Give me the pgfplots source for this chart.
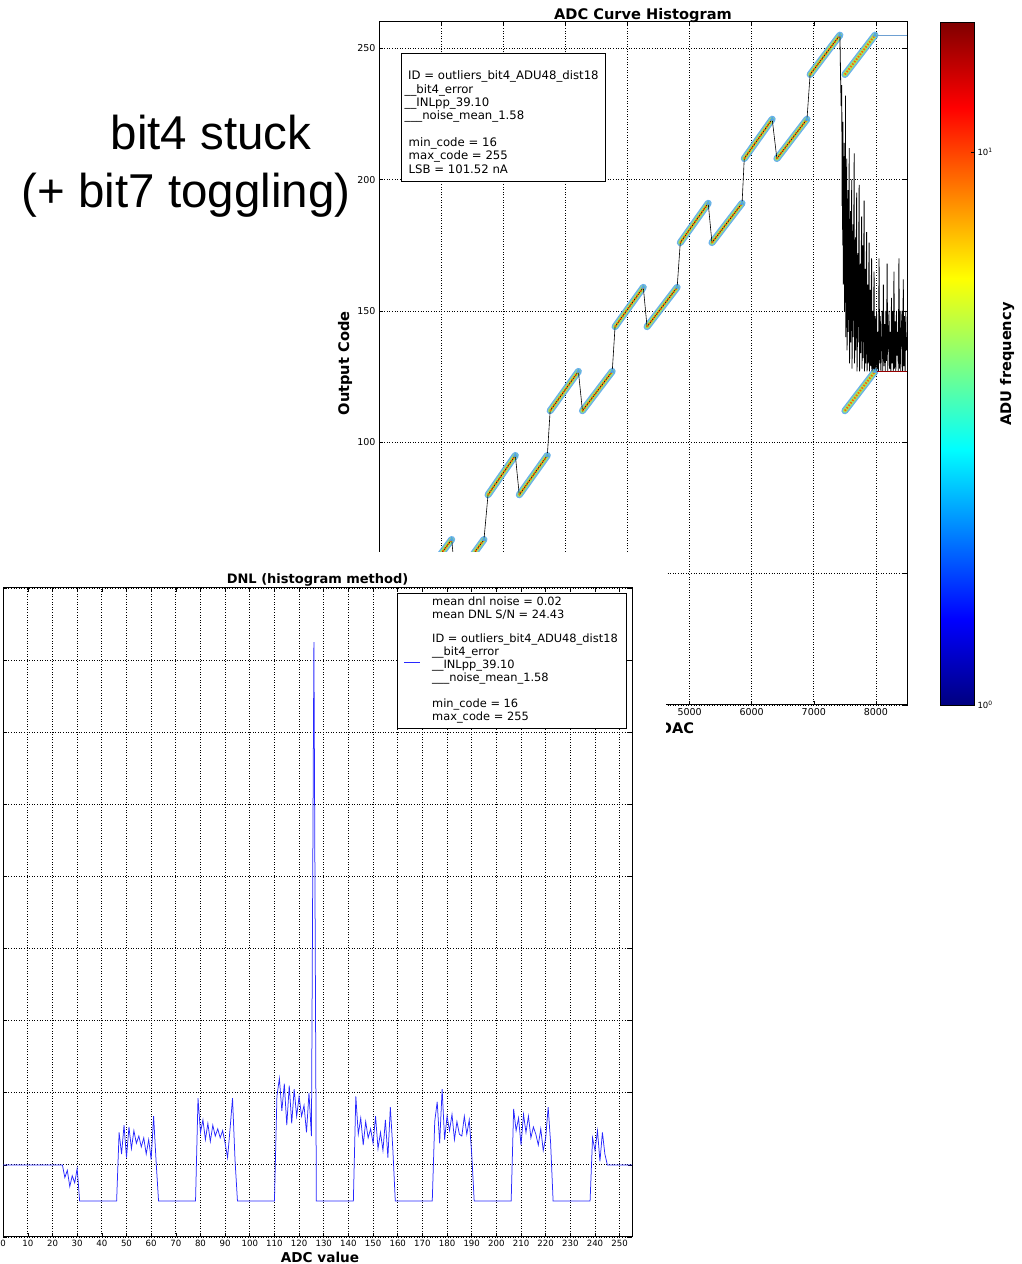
\documentclass[border=0pt]{standalone}
\usepackage{pgfplots}
\usepackage{pgfplotstable}
\pgfplotsset{compat=1.18}
\usepackage{fontspec}
\setmainfont{DejaVu Sans}
\newfontfamily\slidefont{Liberation Sans}
\definecolor{bandout}{RGB}{80,165,230}
\definecolor{bandmid}{RGB}{165,230,95}
\definecolor{bandin}{RGB}{255,100,0}
\definecolor{flatblue}{RGB}{110,160,210}
\definecolor{flatred}{RGB}{150,0,0}
\definecolor{dnlblue}{RGB}{40,40,255}
\newcommand{\fs}[1]{\fontsize{#1}{#1}\selectfont}

\pgfplotstableread{
x y
0 26
160 31
nan nan
190 16
650 31
nan nan
700 48
1170 63
nan nan
1230 48
1690 63
nan nan
1755 80
2195 95
nan nan
2258 80
2710 95
nan nan
2755 112
3210 127
nan nan
3275 112
3755 127
nan nan
3800 144
4255 159
nan nan
4315 144
4800 159
nan nan
4850 176
5300 191
nan nan
5360 176
5845 191
nan nan
5880 208
6330 223
nan nan
6405 208
6890 223
nan nan
6940 240
7420 255
nan nan
7500 240
7985 255
nan nan
7500 112
7985 127
}\segs

\pgfplotstableread{
x y
1170 63
1690 63
2195 95
2710 95
3210 127
3755 127
4255 159
4800 159
5300 191
5845 191
6330 223
6890 223
7420 255
7985 255
7985 127
}\tops

\pgfplotstableread{
x y
0 26
160 31
190 16
650 31
700 48
1170 63
1230 48
1690 63
1755 80
2195 95
2258 80
2710 95
2755 112
3210 127
3275 112
3755 127
3800 144
4255 159
4315 144
4800 159
4850 176
5300 191
5360 176
5845 191
5880 208
6330 223
6405 208
6890 223
6940 240
7420 255
}\meanline

\pgfplotstableread{
x y
7420 255
7430 240
7440 228
7450 236
7455 190
7460 205
7465 175
7470 222
7475 160
7480 168
7485 200
7490 214
7495 150
7500 190
7505 165
7510 232
7515 140
7520 175
7525 198
7530 208
7535 135
7540 150
7545 185
7550 196
7555 142
7560 172
7565 190
7570 212
7575 130
7580 140
7585 176
7590 188
7595 138
7600 160
7605 182
7610 200
7615 128
7620 145
7625 170
7630 183
7635 140
7640 165
7645 190
7650 210
7655 130
7660 138
7665 172
7670 178
7675 135
7680 150
7685 180
7690 195
7695 127
7700 132
7705 165
7710 172
7715 138
7720 155
7725 182
7730 198
7735 127
7740 128
7745 160
7750 168
7755 134
7760 145
7765 175
7770 186
7775 128
7780 135
7785 165
7790 175
7795 132
7800 150
7805 176
7810 192
7815 127
7820 130
7825 158
7830 166
7835 130
7840 142
7845 170
7850 180
7855 127
7860 128
7865 150
7870 160
7875 130
7880 138
7885 165
7890 176
7895 127
7900 131
7905 150
7910 158
7915 129
7920 140
7925 160
7930 170
7935 127
7940 128
7945 145
7950 150
7955 128
7960 135
7965 155
7970 165
7975 127
7980 129
7985 140
7990 148
8000 127
8010 150
8020 128
8030 142
8040 127
8050 170
8060 130
8070 148
8080 127
8090 138
8100 150
8110 127
8120 160
8130 129
8140 145
8150 127
8160 150
8170 131
8180 168
8190 127
8200 140
8210 150
8220 128
8230 142
8240 127
8250 155
8260 130
8270 150
8280 127
8290 165
8300 128
8310 146
8320 127
8330 150
8340 133
8350 142
8360 127
8370 170
8380 128
8390 150
8400 127
8410 144
8420 150
8430 127
8440 162
8450 129
8460 148
8470 127
8480 150
8490 135
8500 140
}\noiseline

\pgfplotstableread{
x y
0 0
24 0
25 -0.35
26 -0.15
27 -0.6
28 -0.3
29 -0.5
30 -0.1
31 -1
46 -1
47 0.9
48 0.3
49 1.1
50 0.2
51 1.05
52 0.45
53 0.95
54 0.6
55 0.8
56 0.5
57 0.75
58 0.3
59 0.7
60 0.15
61 1.35
62 0.1
63 -1
78 -1
79 1.85
80 0.9
81 1.25
82 0.7
83 1.15
84 0.65
85 1.1
86 0.8
87 1.0
88 0.75
89 0.95
90 0.6
91 0.2
92 1.0
93 1.85
94 0.15
95 -1
110 -1
111 1.9
112 2.4
113 1.5
114 2.25
115 1.1
116 2.2
117 1.15
118 2.1
119 1.35
120 1.9
121 1.35
122 1.65
123 0.9
124 2.0
125 0.8
126 14.5
127 -1
142 -1
143 1.9
144 0.85
145 1.3
146 0.55
147 1.2
148 0.75
149 1.0
150 0.6
151 1.35
152 0.45
153 0.9
154 0.4
155 1.25
156 0.2
157 1.6
158 0.45
159 -1
174 -1
175 1.2
176 1.75
177 0.6
178 2.1
179 0.7
180 1.35
181 0.95
182 1.4
183 0.7
184 1.2
185 0.85
186 0.8
187 1.35
188 0.85
189 1.25
190 0.3
191 -1
206 -1
207 1.55
208 0.95
209 1.3
210 0.55
211 1.4
212 0.9
213 1.35
214 0.75
215 1.05
216 0.85
217 0.55
218 1.0
219 0.4
220 0.75
221 1.6
222 0.6
223 -1
238 -1
239 0.75
240 0.4
241 0.95
242 0.1
243 0.9
244 0.3
245 0
255 0
}\dnl

\begin{document}
\begin{tikzpicture}[x=1pt,y=1pt]
\useasboundingbox (0,0) rectangle (1022,1264);

% slide text
\node[anchor=base, inner sep=0, font=\slidefont\fontsize{47.5}{50}\selectfont] at (211,1114) {bit4 stuck};
\node[anchor=base, inner sep=0, font=\slidefont\fontsize{47.5}{50}\selectfont] at (186,1056) {(+ bit7 toggling)};

% ---------------- ADC curve histogram ----------------
\begin{axis}[
  at={(379pt,559pt)}, anchor=south west, scale only axis,
  width=528pt, height=683pt,
  xmin=0, xmax=8500, ymin=0, ymax=260,
  xtick={0,1000,...,8000}, ytick={0,50,...,250},
  xticklabels={,,,,,5000,6000,7000,8000},
  yticklabels={,,100,150,200,250},
  grid=major,
  grid style={black, line width=0.8pt, dash pattern=on 0.9pt off 1.7pt},
  axis line style={black, line width=1pt},
  tick align=inside, tick pos=both, major tick length=4pt,
  tick style={black, line width=0.6pt},
  ticklabel style={font=\fs{9.5}},
  /pgf/number format/assume math mode=true,
  /pgf/number format/set thousands separator={},
  scaled ticks=false,
  unbounded coords=jump,
]
\addplot[bandout, line width=7pt, opacity=0.85, line cap=round, forget plot] table {\segs};
\addplot[bandmid, line width=4pt, line cap=round, forget plot] table {\segs};
\addplot[black, line width=0.6pt, forget plot] table {\meanline};
\addplot[bandin, line width=2pt, dash pattern=on 1.5pt off 1.6pt, forget plot] table {\segs};
\addplot[only marks, mark=triangle*, mark size=2.3pt, color=bandout, forget plot] table {\tops};
\addplot[flatblue, line width=1.2pt, forget plot] coordinates {(7985,255) (8500,255)};
\addplot[black, line width=0.8pt, forget plot] table {\noiseline};
\addplot[flatred, line width=1.2pt, forget plot] coordinates {(7985,127) (8500,127)};
\end{axis}

% ---------------- colour bar (log10 of ADU frequency) ----------------
\begin{axis}[
  at={(940pt,559pt)}, anchor=south west, scale only axis,
  width=34pt, height=683pt,
  xmin=0, xmax=1, ymin=0, ymax=1.235,
  enlargelimits=false,
  colormap/jet, point meta min=0, point meta max=1.235,
  xtick=\empty,
  ytick={0,1}, yticklabels={10\textsuperscript{0},10\textsuperscript{1}},
  ytick pos=right, yticklabel pos=right,
  yticklabel style={font=\fs{8.5}},
  tick align=inside, major tick length=3pt,
  tick style={black, line width=0.6pt},
  axis line style={black, line width=0.8pt},
  axis on top,
]
\addplot[surf, shader=interp, point meta=y, forget plot] coordinates {
(0,0) (1,0)

(0,1.235) (1,1.235)
};
\end{axis}

\node[anchor=base, inner sep=0, font=\bfseries\fs{14.6}] at (643,1244.5) {ADC Curve Histogram};
\node[rotate=90, anchor=base, inner sep=0, font=\bfseries\fs{14.6}] at (349,900.5) {Output Code};
\node[rotate=90, anchor=base, inner sep=0, font=\bfseries\fs{14.6}] at (1011,900) {ADU frequency};
\node[anchor=base, inner sep=0, font=\bfseries\fs{14.6}] at (677,530.7) {DAC};

% top legend
\draw[black, line width=0.9pt, fill=white] (401,1210.5) rectangle (605,1082.5);
\begin{scope}[every node/.style={anchor=base west, inner sep=0, font=\fs{11.7}}]
\node at (408,1184) {ID = outliers\_bit4\_ADU48\_dist18};
\node at (404.5,1170.7) {\_\_bit4\_error};
\node at (404.5,1157.4) {\_\_INLpp\_39.10};
\node at (404.5,1144) {\_\_\_noise\_mean\_1.58};
\node at (408.5,1117.4) {min\_code = 16};
\node at (408.5,1104) {max\_code = 255};
\node at (408.5,1090.7) {LSB = 101.52 nA};
\end{scope}

% cover from the pasted DNL picture
\fill[white] (0,0) rectangle (666,712);

% ---------------- DNL ----------------
\begin{axis}[
  at={(3.2pt,27pt)}, anchor=south west, scale only axis,
  width=628.8pt, height=649pt,
  xmin=0, xmax=255, ymin=-2, ymax=16,
  xtick={0,10,...,250}, ytick={-2,0,...,16}, yticklabels={},
  grid=major,
  grid style={black, line width=0.8pt, dash pattern=on 0.9pt off 1.7pt},
  axis line style={black, line width=1pt},
  tick align=inside, tick pos=both, major tick length=4pt,
  tick style={black, line width=0.6pt},
  xticklabel style={font=\fs{8.6}},
  /pgf/number format/assume math mode=true,
  scaled ticks=false,
]
\addplot[dnlblue, line width=0.75pt, forget plot] table {\dnl};
\end{axis}

\node[anchor=base, inner sep=0, font=\bfseries\fs{13}] at (317.6,680.5) {DNL (histogram method)};
\node[anchor=base, inner sep=0, font=\bfseries\fs{13.6}] at (320,1.5) {ADC value};

% DNL legend
\draw[black, line width=0.9pt, fill=white] (397.3,670.7) rectangle (626,536);
\draw[dnlblue, line width=0.9pt] (404,602) -- (420,602);
\begin{scope}[every node/.style={anchor=base west, inner sep=0, font=\fs{11.4}}]
\node at (432,658) {mean dnl noise = 0.02};
\node at (432,645.5) {mean DNL S/N = 24.43};
\node at (432,621.5) {ID = outliers\_bit4\_ADU48\_dist18};
\node at (432,608.5) {\_\_bit4\_error};
\node at (432,595.5) {\_\_INLpp\_39.10};
\node at (432,582.5) {\_\_\_noise\_mean\_1.58};
\node at (432,556.5) {min\_code = 16};
\node at (432,543.5) {max\_code = 255};
\end{scope}
\end{tikzpicture}
\end{document}
